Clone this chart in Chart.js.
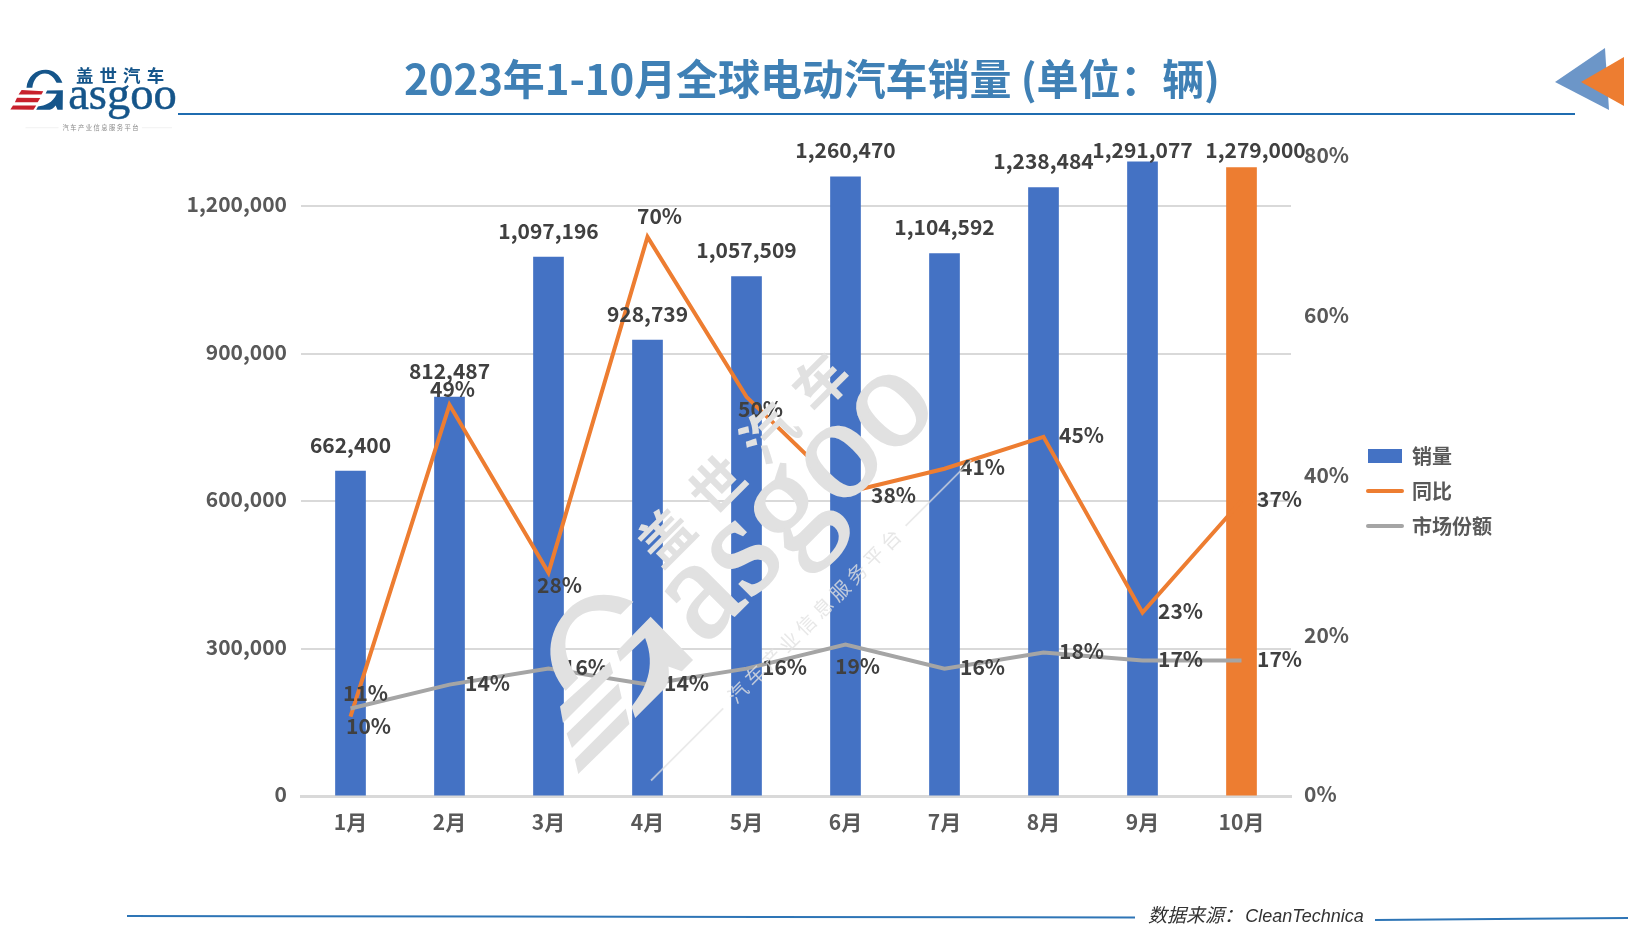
<!DOCTYPE html>
<html>
<head>
<meta charset="utf-8">
<script src="https://cdn.jsdelivr.net/npm/chart.js@4"></script>
<style>
	html, body { margin: 0; padding: 0; background: #fff; }
	#page { position: relative; width: 1640px; height: 931px; overflow: hidden; }
	#myChart { position: absolute; left: 0; top: 0; }
	#title {
		position: absolute; left: 312px; top: 47px; width: 1000px; height: 60px;
		text-align: center; white-space: nowrap; letter-spacing: -0.1px;
		font: bold 42px/60px "Noto Sans CJK SC"; color: #3F80B5;
	}
	#source {
		position: absolute; left: 1148px; top: 902px; white-space: nowrap;
		font: italic 19px/28px "Liberation Sans", "Noto Sans CJK SC"; color: #333;
	}
	#source span { font-size: 18px; margin-left: -3px; }
	#overlay { position: absolute; left: 0; top: 0; pointer-events: none; }
	.main { fill: var(--main); }
	.word { fill: var(--main); stroke: var(--main); stroke-width: var(--word); }
	.red { fill: var(--red); }
	.sub { fill: var(--sub); }
	.rule { stroke: var(--rule); stroke-width: 0.6; }
</style>
</head>
<body>
<div id="page">
	<canvas id="myChart" width="1640" height="931"></canvas>
	<div id="title">2023年1-10月全球电动汽车销量 (单位：辆)</div>
	<div id="source">数据来源： <span>CleanTechnica</span></div>

	<svg id="overlay" width="1640" height="931" xmlns="http://www.w3.org/2000/svg">
		<defs>
			<g id="logo">
				<path class="main" d="M22 87 C23 76 31 68.5 42 68.5 C50 68.5 56 74 59 82 L53 82 C50 76 46 72.5 41 72.5 C34 72.5 29 79 28 87 Z"/>
				<path class="main" d="M43.3 89.8 L59.5 89.6 L59.3 109.8 L54 109.8 L52 105.5 C50 108 48 109.5 46 109.8 L32 109.8 L33.8 106.3 C41 105.5 49 103 53.2 93.3 L41.7 93 Z"/>
				<polygon class="red" points="17,89.4 39.3,90.6 37.4,94 13.8,94"/>
				<polygon class="red" points="12.2,97.3 36.2,97.7 33.5,102 10,102"/>
				<polygon class="red" points="8,105.4 32,105.4 29.2,109.9 5.4,109.6"/>
				<text class="word" x="65" y="109" font-family="Liberation Serif" font-size="48">asgoo</text>
				<text class="main" x="73" y="81" font-family="Noto Sans CJK SC" font-weight="bold" font-size="18" letter-spacing="6.3">盖世汽车</text>
				<text class="sub" x="59" y="130.5" font-family="Noto Sans CJK SC" font-size="6.5" letter-spacing="1.5">汽车产业信息服务平台</text>
				<line class="rule" x1="21" y1="128.3" x2="55" y2="128.3"/>
				<line class="rule" x1="141" y1="128.3" x2="172" y2="128.3"/>
			</g>
		</defs>

		<!-- header -->
		<use href="#logo" transform="translate(172 109) scale(.97) translate(-172 -109)" style="--main:#15558A;--red:#C8202C;--sub:#8A8A8A;--rule:#E6E6E6;--word:.5"/>
		<line x1="178" y1="114" x2="1575" y2="114" stroke="#1F6CB0" stroke-width="2"/>
		<polygon points="1555,82 1605,48 1609,110" fill="#6C96C8"/>
		<polygon points="1581,82 1624,57 1624,106" fill="#ED7D31"/>

		<!-- footer -->
		<line x1="127" y1="916" x2="1135" y2="917.5" stroke="#2E75B6" stroke-width="2"/>
		<line x1="1375" y1="920" x2="1628" y2="918" stroke="#2E75B6" stroke-width="2"/>

		<!-- watermark, sits over the chart -->
		<use href="#logo" transform="translate(888 415) rotate(-45) scale(3) translate(-163 -98)"
			style="--main:#E1E1E1;--red:#E1E1E1;--sub:rgba(225,225,225,.8);--rule:rgba(225,225,225,.7);--word:.9"/>
	</svg>
</div>

<script>
// DATA
// ================================================================
var categories = ['1月', '2月', '3月', '4月', '5月', '6月', '7月', '8月', '9月', '10月'];
var sales = [662400, 812487, 1097196, 928739, 1057509, 1260470, 1104592, 1238484, 1291077, 1279000];
var yoy = [10, 49, 28, 70, 50, 38, 41, 45, 23, 37];
var share = [11, 14, 16, 14, 16, 19, 16, 18, 17, 17];
var salesTicks = [0, 300000, 600000, 900000, 1200000];
var shareTicks = [0, 20, 40, 60, 80];


// Styles
// ================================================================
var fontFamily = '"Noto Sans CJK SC"';
var blue = '#4472C4', orange = '#ED7D31', grey = '#A5A5A5';
var barColors = categories.map((c, i) => i == categories.length - 1 ? orange : blue);

// hand placed label offsets from each mark, px
var salesOffsets = [0, 0, 0, 0, 0, 0, 0, 0, 0, 14];
var yoyOffsets = [[18, 9], [3, -16], [11, 12], [12, -21], [14, 12], [48, 2], [38, -2], [38, -2], [38, -2], [38, -2]];
var shareOffsets = [[15, -16], [38, -2], [37, -2], [39, -2], [38, -2], [12, 21], [38, -2], [38, -2], [38, -2], [38, -2]];


// Plugins
// ================================================================
var dataLabels = {
	id: 'dataLabels',
	afterDatasetsDraw(chart) {
		var ctx = chart.ctx;
		ctx.save();
		ctx.font = 'bold 21px ' + fontFamily;
		ctx.fillStyle = '#404040';
		ctx.textAlign = 'center';
		ctx.textBaseline = 'middle';

		chart.getDatasetMeta(0).data.forEach((bar, i) => {
			// labels stop at the top of the plot
			ctx.fillText(sales[i].toLocaleString('en-US'), bar.x + salesOffsets[i], Math.max(bar.y - 26, 150));
		});
		chart.getDatasetMeta(1).data.forEach((pt, i) => {
			ctx.fillText(yoy[i] + '%', pt.x + yoyOffsets[i][0], pt.y + yoyOffsets[i][1]);
		});
		chart.getDatasetMeta(2).data.forEach((pt, i) => {
			ctx.fillText(share[i] + '%', pt.x + shareOffsets[i][0], pt.y + shareOffsets[i][1]);
		});
		ctx.restore();
	}
};

var legendNudge = {
	id: 'legendNudge',
	afterLayout(chart) {
		chart.legend.top -= 53;
		chart.legend.bottom -= 53;
	}
};

// the value axis labels sit a touch above their gridlines in the original
var tickNudge = {
	id: 'tickNudge',
	beforeDraw(chart) {
		[chart.scales.y, chart.scales.y1].forEach(scale => {
			scale.getLabelItems().forEach(item => {
				item.options.translation[1] -= 2;
			});
		});
	}
};

var Plugins = {
	legend: {
		position: 'right',
		labels: {
			usePointStyle: true,
			pointStyleWidth: 34,
			boxHeight: 14,
			padding: 15,
			color: '#595959',
			font: { family: fontFamily, size: 20, weight: 'bold' },
			sort: (a, b) => a.datasetIndex - b.datasetIndex,
			generateLabels(chart) {
				var items = Chart.defaults.plugins.legend.labels.generateLabels(chart);
				var looks = [[blue, 'rect', 0], [orange, 'line', 4], [grey, 'line', 4]];
				items.forEach(item => {
					var look = looks[item.datasetIndex];
					item.fillStyle = look[0];
					item.strokeStyle = look[0];
					item.pointStyle = look[1];
					item.lineWidth = look[2];
					item.lineCap = 'round';
				});
				return items;
			}
		}
	},
	tooltip: { enabled: false }
};


// OPTIONS
// ================================================================
var tickFont = { family: fontFamily, size: 21, weight: 'bold' };

var options = {
	responsive: false,
	animation: false,
	plugins: Plugins,
	layout: { padding: { top: 157, right: 138, left: 0, bottom: 0 } },

	scales: {
		x: {
			afterFit(scale) { scale.height = 134.5; },
			grid: { display: false, drawTicks: false },
			border: { color: '#D9D9D9', width: 3 },
			ticks: { color: '#595959', font: tickFont, padding: 13, maxRotation: 0 }
		},
		y: {
			position: 'left',
			min: 0,
			max: 1300000,
			afterFit(scale) { scale.width = 301; },
			// the step does not divide the max, so Chart.js would respace the ticks
			afterBuildTicks(scale) { scale.ticks = salesTicks.map(value => ({ value })); },
			grid: { color: '#D9D9D9', lineWidth: 2, drawTicks: false },
			border: { display: false },
			ticks: {
				padding: 14,
				color: '#595959',
				font: tickFont,
				callback: value => value.toLocaleString('en-US')
			}
		},
		y1: {
			position: 'right',
			min: 0,
			max: 80,
			afterFit(scale) { scale.width = 62; },
			afterBuildTicks(scale) { scale.ticks = shareTicks.map(value => ({ value })); },
			grid: { display: false, drawTicks: false },
			border: { display: false },
			ticks: {
				padding: 13,
				color: '#595959',
				font: tickFont,
				callback: value => value + '%'
			}
		}
	}
};


// Create the chart
var ctx = document.getElementById('myChart').getContext('2d');
var Render = new Chart(ctx, {
	type: 'bar',
	data: {
		labels: categories,
		datasets: [
			{ type: 'bar', label: '销量', data: sales, yAxisID: 'y', backgroundColor: barColors, barPercentage: 0.62, categoryPercentage: 0.5, order: 3 },
			{ type: 'line', label: '同比', data: yoy, yAxisID: 'y1', borderColor: orange, borderWidth: 4, pointRadius: 0, tension: 0, order: 2 },
			{ type: 'line', label: '市场份额', data: share, yAxisID: 'y1', borderColor: grey, borderWidth: 4, pointRadius: 0, tension: 0, order: 1 }
		]
	},
	options: options,
	plugins: [dataLabels, legendNudge, tickNudge]
});
</script>
</body>
</html>
